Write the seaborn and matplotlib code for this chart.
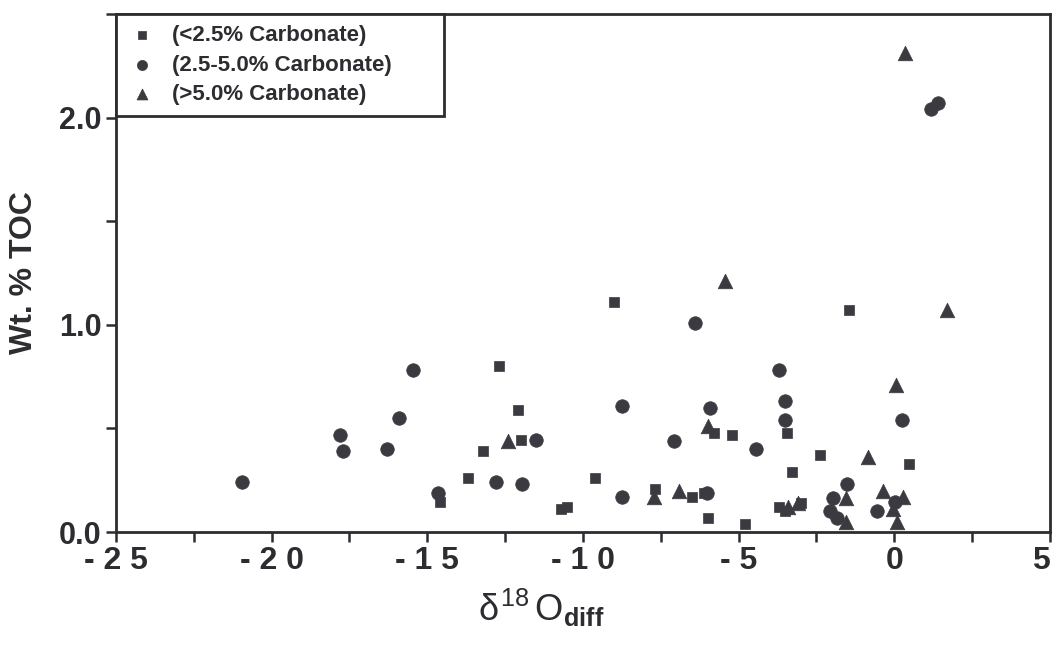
import pandas as pd
import matplotlib
matplotlib.use("Agg")
import matplotlib.pyplot as plt
import seaborn as sns
from matplotlib.ticker import MultipleLocator

# --- data ---
sq_x = [-9.0, -12.7, -12.1, -1.46, -13.2, -13.7, -12.0, -14.6, -9.6, -10.7, -10.5,
        -7.7, -6.5, -6.0, -6.1, -5.8, -5.2, -4.8, -3.46, -2.4, -3.3, 0.47, -3.7, -3.5, -3.0]
sq_y = [1.11, 0.80, 0.59, 1.07, 0.39, 0.26, 0.445, 0.145, 0.26, 0.11, 0.12,
        0.21, 0.17, 0.07, 0.19, 0.48, 0.47, 0.04, 0.48, 0.37, 0.29, 0.33, 0.12, 0.10, 0.14]

ci_x = [-20.95, -17.8, -17.7, -16.3, -15.9, -15.45, -14.65, -12.8, -11.95, -11.5,
        -8.76, -8.76, -7.06, -6.41, -6.03, -5.93, -4.45, -3.7, -3.52, -3.52,
        -1.98, -2.07, -1.85, -1.53, -0.56, 0.02, 0.24, 1.17, 1.40]
ci_y = [0.24, 0.47, 0.39, 0.40, 0.55, 0.78, 0.19, 0.24, 0.23, 0.445,
        0.61, 0.17, 0.44, 1.01, 0.19, 0.60, 0.40, 0.78, 0.63, 0.54,
        0.165, 0.10, 0.07, 0.23, 0.10, 0.145, 0.54, 2.04, 2.07]

tr_x = [-12.4, -7.73, -6.9, -5.97, -5.45, -3.4, -3.1, -1.56, -1.56, -0.85,
        -0.37, 0.05, 0.27, -0.05, 0.08, 0.34, 1.69]
tr_y = [0.44, 0.17, 0.20, 0.51, 1.21, 0.12, 0.14, 0.165, 0.05, 0.36,
        0.20, 0.71, 0.17, 0.11, 0.05, 2.31, 1.07]

labels = ["(<2.5% Carbonate)", "(2.5-5.0% Carbonate)", "(>5.0% Carbonate)"]
x_ticks = [-25, -20, -15, -10, -5, 0, 5]
x_ticklabels = ["- 2 5", "- 2 0", "- 1 5", "- 1 0", "- 5", "0", "5"]
y_ticks = [0.0, 1.0, 2.0]
y_ticklabels = ["0.0", "1.0", "2.0"]

# --- style ---
sns.set_theme(style="ticks")
plt.rcParams["font.family"] = ["Liberation Sans", "DejaVu Sans"]
plt.rcParams["mathtext.fontset"] = "custom"
plt.rcParams["mathtext.rm"] = "Liberation Sans"
plt.rcParams["mathtext.it"] = "Liberation Sans"
plt.rcParams["mathtext.bf"] = "Liberation Sans:bold"
INK = "#2c2c31"
FILL = "#3a3a40"

groups = [
    (sq_x, sq_y, "s", 55, labels[0]),
    (ci_x, ci_y, "o", 95, labels[1]),
    (tr_x, tr_y, "^", 110, labels[2]),
]

fig = plt.figure(figsize=(10.56, 6.56), dpi=100)
ax = fig.add_axes([0.1098, 0.189, 0.8845, 0.7897])

for xs, ys, mk, size, lab in groups:
    df = pd.DataFrame({"x": xs, "y": ys})
    sns.scatterplot(data=df, x="x", y="y", marker=mk, s=size, color=FILL,
                    edgecolor=FILL, linewidth=0.5, ax=ax, label=lab, zorder=3)

ax.set_xlim(-25, 5)
ax.set_ylim(0, 2.5)
ax.set_xticks(x_ticks)
ax.set_xticklabels(x_ticklabels, fontweight="bold", fontsize=23, color=INK)
ax.get_xticklabels()[-1].set_ha("right")
ax.set_yticks(y_ticks)
ax.set_yticklabels(y_ticklabels, fontweight="bold", fontsize=22, color=INK)
ax.xaxis.set_minor_locator(MultipleLocator(2.5))
ax.yaxis.set_minor_locator(MultipleLocator(0.5))
ax.tick_params(which="both", direction="out", length=7, width=1.8, color=INK)
ax.tick_params(axis="x", pad=3)

for sp in ax.spines.values():
    sp.set_linewidth(2.0)
    sp.set_color(INK)

ax.set_ylabel("Wt. % TOC", fontsize=23, fontweight="bold", color=INK)
ax.yaxis.set_label_coords(-0.082, 0.5)
ax.set_xlabel(r"$\delta^{18}\,\mathrm{O}_{\mathbf{diff}}$", fontsize=26, color=INK)
ax.xaxis.set_label_coords(0.455, -0.105)

leg = ax.legend(loc="upper left", bbox_to_anchor=(0, 0.5, 0.351, 0.5),
                mode="expand", borderaxespad=0,
                frameon=True, fancybox=False, framealpha=1,
                prop={"weight": "bold", "size": 16}, labelspacing=0.38,
                handletextpad=0.7, borderpad=0.5, handlelength=1.3,
                markerscale=0.75)
leg.get_frame().set_edgecolor(INK)
leg.get_frame().set_linewidth(2.0)
for t in leg.get_texts():
    t.set_color(INK)

fig.savefig("out.png", dpi=100)
